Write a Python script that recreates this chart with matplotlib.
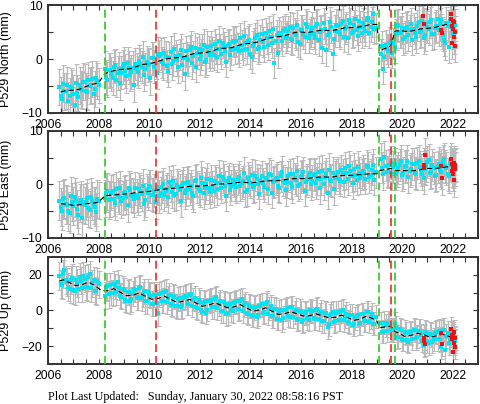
import numpy as np
import matplotlib.pyplot as plt
from matplotlib.ticker import MultipleLocator

nan = np.nan

# samples every 0.1 yr (16 rows x 10); second set offset by 0.05 yr
obs_t = 2006.45 + 0.1 * np.arange(160)
obs_t2 = 2006.50 + 0.1 * np.arange(160)

north_obs = [
    -5.2, -7.4, -6.0, -4.8, -6.9, -5.5, -8.6, -6.3, -4.9, -5.8,
    -4.3, -6.2, -5.0, -3.7, -5.6, -4.1, nan, nan, -1.9, -3.8,
    -2.0, -3.5, -1.2, -2.6, -4.4, -1.5, -2.2, -0.8, -2.9, -1.7,
    -0.9, -2.4, -1.0, 0.3, -1.8, -1.2, -3.6, 0.2, -0.7, 1.0,
    0.9, -1.0, 0.4, -2.2, 1.3, -0.3, 0.6, -1.5, 1.7, 0.1,
    1.4, -0.2, 2.3, 0.5, -1.4, 1.8, 0.8, 2.6, -0.1, 1.3,
    2.4, 0.7, 1.9, 3.4, 0.9, 2.2, -0.6, 2.8, 1.6, 3.1,
    3.3, 1.4, 2.6, 4.2, 1.9, 3.6, 0.3, 3.0, 4.5, 2.2,
    4.6, 2.3, 3.8, 5.2, 2.9, -0.8, 4.4, 4.9, 3.4, 5.6,
    4.2, 5.9, 3.6, 4.8, 6.3, 2.8, 5.4, 4.0, 6.0, 4.6,
    5.8, 3.9, 6.4, 5.0, 2.1, 5.6, 4.4, 6.8, 0.9, 5.2,
    6.2, 4.6, 7.1, 5.5, 3.8, 6.7, 5.1, 7.4, 4.3, 6.0,
    6.6, 5.2, 7.6, 6.0, 8.3, 5.7, nan, 0.9, -1.9, 2.6,
    1.5, 3.4, 2.9, 4.6, 6.3, 5.0, 3.7, 5.8, 4.4, 6.5,
    5.6, 4.1, 6.9, 5.2, 3.9, 6.4, 5.5, 7.2, 4.7, 6.1,
    5.4, 7.3, 3.6, 6.6, 2.2, 5.9, 7.0, nan, nan, nan,
]
north_obs2 = [
    -6.8, -4.6, -5.9, -7.7, -5.1, -6.4, -4.4, -7.0, -5.6, -4.2,
    -5.9, -3.9, -4.8, -6.5, -3.6, -4.9, nan, nan, -3.4, -2.1,
    -2.8, -1.4, -3.9, -1.8, -2.5, -0.9, -3.2, -1.6, -2.4, -4.8,
    -1.9, -0.4, -1.5, -2.9, -0.6, -1.0, 0.1, -1.4, -2.6, 0.6,
    -0.6, 1.1, -1.3, 0.2, -0.9, 1.9, -0.2, 0.8, -1.1, -2.8,
    0.3, 1.6, -0.8, 2.0, 1.1, 0.0, 1.7, -0.5, 2.2, 0.7,
    1.2, 2.7, 0.4, 1.8, 3.0, 1.4, 2.5, 0.8, 3.3, 1.9,
    2.1, 3.8, 1.6, 2.9, 3.4, 0.9, 2.4, 3.9, 1.8, 3.5,
    3.1, 4.8, 2.6, 4.1, 5.5, 3.3, 1.2, 4.3, 5.1, 3.9,
    5.1, 3.7, 5.7, 4.4, 3.1, 5.3, 4.6, 6.5, 3.9, 5.0,
    4.7, 6.1, 3.5, 5.3, 6.6, 1.6, 4.8, 5.9, 3.7, 6.3,
    5.0, 6.5, 4.1, 5.9, 7.3, 4.8, 6.3, 5.4, 7.0, 4.9,
    5.9, 7.2, 4.9, 6.8, 5.5, nan, nan, 2.4, 0.4, 1.8,
    3.0, 1.2, 2.2, 6.1, 4.9, 5.7, 4.1, 6.0, 5.3, 3.6,
    4.8, 6.2, 5.0, 7.0, 4.4, 5.9, 6.8, 4.6, 5.8, 7.5,
    6.4, 4.5, 2.9, 6.1, 7.1, 4.8, 6.3, nan, nan, nan,
]

east_obs = [
    -3.0, -4.9, -2.6, -3.8, -5.4, -3.3, -2.4, -4.6, -3.5, -6.2,
    -3.9, -2.5, -4.7, -3.1, -4.2, -2.7, nan, nan, -2.6, -1.3,
    -2.8, -1.2, -3.4, -1.9, -0.6, -2.5, -1.4, -3.8, -1.0, -2.2,
    -0.7, -2.6, -1.3, -0.2, -2.9, -1.6, -0.4, -2.0, -3.3, -0.8,
    -1.6, 0.1, -1.2, -2.4, -0.3, 0.6, -1.8, -0.5, -3.0, 0.2,
    -1.1, 0.5, -0.3, -2.2, 0.9, -0.8, 1.3, -1.6, 0.1, -0.6,
    0.8, -1.3, 0.3, 1.6, -0.6, 0.9, -2.1, 1.2, -0.2, 0.5,
    -0.5, 1.4, 0.2, 2.2, -1.1, 0.7, 1.8, -0.3, 1.0, -1.7,
    1.5, -0.4, 0.9, 2.0, -1.5, 0.6, 1.3, -0.6, 2.4, 0.3,
    0.4, 1.9, -0.5, 1.2, 2.5, 0.1, 1.6, -1.2, 1.0, 2.1,
    0.6, 2.0, 1.1, -0.7, 2.6, 1.4, -1.6, 0.8, 2.2, 1.3,
    2.3, 0.7, 1.9, 3.1, 1.0, 2.6, 0.2, 1.7, 3.3, 1.2,
    2.6, 1.1, 3.2, 1.8, 3.7, 2.3, nan, 4.8, 1.9, 3.5,
    2.4, 4.1, 3.3, 1.9, 3.0, 4.3, 2.2, 3.5, 1.4, 2.9,
    3.8, 2.0, 4.4, 2.7, 1.3, 3.5, 4.6, 2.4, 3.1, 1.8,
    3.9, 2.3, 4.7, 3.0, 1.5, 3.6, 2.8, nan, nan, nan,
]
east_obs2 = [
    -4.2, -2.8, -3.7, -5.0, -2.2, -4.0, -3.1, -5.7, -2.9, -3.6,
    -3.2, -4.4, -2.3, -3.9, -5.1, -3.0, nan, nan, -1.6, -2.9,
    -1.5, -2.7, -0.9, -2.3, -3.1, -1.6, -2.4, -0.7, -1.9, -2.8,
    -2.0, -0.9, -1.8, -3.6, -1.1, -0.3, -1.9, -1.2, -0.5, -2.2,
    -0.4, -1.9, -0.8, 0.4, -1.4, -2.0, -0.1, -1.1, -0.3, -1.5,
    0.2, -0.9, -1.5, 0.6, -0.4, -1.2, 0.3, -0.7, 1.0, -1.4,
    -0.4, 0.7, -0.9, 0.2, 1.4, -0.3, 0.6, -1.0, 0.9, -0.1,
    1.0, -0.2, 0.6, -1.4, 1.3, 0.3, -0.5, 1.6, 0.1, 0.8,
    0.2, 1.2, -0.8, 1.7, 0.4, 1.0, -0.3, 1.5, 0.7, -1.1,
    1.5, 0.2, 2.0, 0.8, -0.2, 1.4, 2.3, 0.5, 1.8, 0.0,
    1.8, 0.3, 2.4, 1.0, 0.1, 1.9, 2.8, 0.6, -0.9, 1.7,
    1.1, 2.7, 0.5, 2.1, 3.4, 1.5, 2.9, 0.9, 2.2, 1.8,
    2.1, 3.5, 1.4, 2.8, 0.9, nan, nan, 3.1, 5.2, 2.4,
    3.6, 2.0, 3.9, 2.5, 3.7, 1.8, 3.2, 4.4, 2.6, 3.8,
    2.2, 4.0, 3.3, 1.9, 2.9, 4.2, 2.1, 3.6, 1.6, 3.3,
    2.7, 4.2, 3.4, 1.9, 4.0, 2.5, 3.7, nan, nan, nan,
]

up_obs = [
    19.5, 14.2, 22.8, 16.0, 12.1, 18.3, 10.9, 15.4, 19.0, 12.6,
    17.9, 13.1, 20.4, 15.2, 11.0, 16.5, nan, nan, 8.2, 13.6,
    14.1, 9.6, 13.5, 15.8, 8.4, 12.0, 6.1, 10.2, 5.3, 9.4,
    11.6, 7.2, 12.9, 9.0, 5.1, 10.4, 8.3, 3.8, 7.9, -1.5,
    9.9, 5.6, 10.7, 7.2, 3.8, 8.0, 2.6, 6.4, 1.9, 7.1,
    8.3, 3.9, 9.0, 6.1, 1.7, 5.9, 0.4, 4.3, -1.2, 5.2,
    6.0, 1.9, 7.3, 3.5, -0.2, 4.6, -2.0, 3.3, 0.1, 4.4,
    5.1, 0.9, 6.2, 2.6, -1.3, 3.0, -2.9, 1.4, -3.5, 2.7,
    3.4, -0.8, 4.5, 1.1, -3.2, 0.9, -4.7, -0.3, -5.6, 0.5,
    1.3, -3.4, 2.0, -0.9, -5.2, -0.1, -6.3, -1.6, -4.4, 0.2,
    -0.4, -4.6, 0.8, -2.2, -6.1, -1.3, -9.4, -3.0, -1.0, -5.7,
    -1.1, -5.2, 0.0, -3.5, -6.4, -2.8, -8.0, -4.3, -2.5, -7.1,
    -2.2, -5.8, -0.9, -4.0, -7.3, -3.6, nan, -7.0, -11.8, -8.3,
    -6.9, -10.5, -11.2, -9.8, -14.6, -11.0, -16.3, -12.7, -17.4, -13.1,
    -10.8, -15.3, -11.6, -14.0, -19.5, -12.5, -18.1, -13.6, -16.2, -11.9,
    -11.4, -20.6, -10.9, -14.1, -18.4, -12.8, -15.9, nan, nan, nan,
]
up_obs2 = [
    14.8, 20.6, 17.3, 13.0, 16.9, 11.5, 17.2, 12.3, 16.8, 19.2,
    13.4, 18.7, 12.6, 16.9, 10.8, 14.7, nan, nan, 13.2, 9.0,
    9.9, 15.0, 10.1, 12.8, 7.7, 11.3, 5.6, 10.6, 6.2, 11.9,
    7.5, 12.4, 6.8, 10.7, 5.3, 9.0, 3.9, 8.8, 4.4, 9.2,
    5.2, 10.3, 4.9, 8.8, 3.1, 7.4, 2.3, 6.9, 2.8, 7.7,
    4.0, 8.6, 2.7, 7.0, 1.4, 4.8, -0.6, 5.1, 0.5, 5.6,
    1.8, 6.5, 1.2, 5.1, -0.4, 3.9, -1.3, 3.7, -0.5, 4.6,
    0.6, 5.4, -0.3, 4.0, -1.8, 2.2, -2.8, 2.1, -2.4, 2.6,
    -1.2, 3.6, -1.9, 2.4, -3.3, 0.6, -4.6, 0.3, -4.1, 0.4,
    -3.1, 1.7, -3.5, 0.4, -4.6, -0.8, -5.5, -1.0, -5.3, -0.6,
    -4.4, 0.4, -4.8, -0.7, -5.9, -1.5, -7.8, -1.8, -6.2, -1.2,
    -5.3, -0.5, -5.6, -1.7, -6.9, -2.8, -7.8, -3.1, -7.4, -2.0,
    -5.6, -1.0, -6.2, -2.1, -7.4, nan, nan, -12.0, -6.9, -11.4,
    -6.8, -10.9, -7.3, -14.9, -10.6, -16.0, -12.1, -16.8, -12.3, -15.9,
    -11.2, -14.6, -11.3, -16.9, -12.2, -17.3, -13.0, -17.5, -12.4, -16.1,
    -16.2, -11.1, -22.4, -12.5, -16.8, -13.1, -17.2, nan, nan, nan,
]

# formal errors, one value per 10-sample row
north_sig = [3.4, 3.3, 3.1, 3.0, 2.9, 2.9, 2.8, 2.8, 2.8, 2.8, 2.9, 2.8, 2.8, 2.9, 2.9, 3.0]
east_sig = [3.6, 3.5, 3.2, 3.1, 3.0, 3.0, 2.9, 2.9, 2.9, 2.9, 3.0, 2.9, 2.9, 3.0, 3.0, 3.1]
up_sig = [7.8, 7.6, 7.1, 7.0, 6.8, 6.6, 6.6, 6.5, 6.4, 6.4, 6.5, 6.4, 6.4, 6.5, 6.6, 6.8]

# model fit (black dashed)
ne_model_t = np.concatenate([np.arange(2006.5, 2019.01, 0.25),
                             [2019.12, 2019.35, 2019.55, 2019.72],
                             np.arange(2020.0, 2022.01, 0.25)])
north_model = [-6.1, -5.8,
               -5.8, -5.6, -5.1, -4.7,
               -4.4, -2.7, -2.3, -2.0,
               -1.9, -1.8, -1.4, -1.0,
               -0.9, -0.6, -0.2, 0.1,
               0.2, 0.3, 0.6, 1.0,
               1.1, 1.2, 1.5, 1.9,
               2.0, 2.1, 2.5, 2.8,
               2.9, 3.1, 3.5, 3.9,
               4.1, 4.2, 4.5, 4.9,
               5.0, 4.9, 5.1, 5.3,
               5.3, 5.3, 5.5, 5.8,
               5.8, 5.9, 6.1, 6.4,
               6.4,
               1.6, 2.0, 2.4, 5.2,
               5.2, 5.1, 5.3, 5.6,
               5.7, 5.8, 6.1, 6.4,
               6.4]
east_model = [-3.6, -3.7,
              -3.9, -3.8, -3.6, -3.5,
              -3.3, -2.1, -2.0, -1.9,
              -1.8, -1.7, -1.5, -1.4,
              -1.3, -1.1, -0.9, -0.8,
              -0.7, -0.6, -0.4, -0.3,
              -0.3, -0.2, -0.1, 0.1,
              0.1, 0.2, 0.4, 0.4,
              0.3, 0.4, 0.6, 0.7,
              0.7, 0.8, 1.0, 1.1,
              1.1, 1.1, 1.3, 1.4,
              1.4, 1.4, 1.6, 1.7,
              1.7, 1.8, 1.9, 2.0,
              2.0,
              2.6, 2.8, 3.0, 2.6,
              2.6, 2.6, 2.6, 2.8,
              3.0, 3.0, 3.1, 3.3,
              3.3]
up_model_t = np.concatenate([[2006.45], np.arange(2006.6, 2019.0, 0.25),
                             [2019.0, 2019.12, 2019.35, 2019.55, 2019.72],
                             np.arange(2019.85, 2022.11, 0.25)])
up_model = [16.5,
            17.2, 15.6,
            13.9, 14.5, 15.9, 14.0,
            11.3, 11.0, 12.2, 10.3,
            8.3, 8.6, 9.8, 8.0,
            6.3, 6.7, 8.0, 6.3,
            4.5, 5.2, 6.2, 4.2,
            2.4, 3.0, 4.3, 2.9,
            1.5, 2.0, 3.3, 1.4,
            -0.4, 0.2, 1.5, -0.3,
            -2.2, -1.8, -0.7, -1.9,
            -3.1, -2.9, -1.9, -3.0,
            -4.1, -3.8, -2.6, -4.0,
            -5.6, -4.7, -3.1, -4.6,
            -5.9, -9.6, -9.2, -8.7, -12.0,
            -12.5,
            -14.5, -14.0, -12.8, -13.5,
            -15.0, -14.2, -13.3, -14.5,
            -16.0]

# rapid solutions (red)
north_red_t = [2020.83, 2020.87, 2021.55, 2021.57, 2021.92, 2021.94, 2021.96, 2021.98,
               2022.0, 2022.02, 2022.04, 2022.06, 2022.08, 2022.1]
north_red = [7.9, 6.4, 5.4, 4.8, 8.3, 7.5, 6.2, 3.0, 7.0, 5.5, 4.0, 6.8, 2.5, 5.0]
east_red_t = [2020.85, 2020.87, 2020.9, 2021.55, 2021.57, 2021.94, 2021.96, 2021.98,
              2022.0, 2022.02, 2022.04, 2022.06, 2022.08, 2022.1]
east_red = [3.7, 3.1, 5.5, 3.5, 1.2, 4.7, 3.8, 2.6, 3.3, 1.9, 4.1, 0.8, 2.9, 3.6]
up_red_t = [2020.85, 2020.87, 2020.89, 2021.55, 2021.57, 2021.94, 2021.96, 2021.98,
            2022.0, 2022.02, 2022.04, 2022.06, 2022.08, 2022.1]
up_red = [-15.2, -17.0, -18.9, -12.4, -18.9, -10.6, -13.5, -16.0, -23.0, -14.2,
          -18.0, -12.0, -20.5, -15.5]

green_events = [2008.25, 2019.1, 2019.7]
red_events = [2010.25, 2019.55]

panels = [
    ("P529 North (mm)", north_obs, north_obs2, north_sig, ne_model_t, north_model,
     north_red_t, north_red, (-10, 10), 10, 5),
    ("P529 East (mm)", east_obs, east_obs2, east_sig, ne_model_t, east_model,
     east_red_t, east_red, (-10, 10), 10, 5),
    ("P529 Up (mm)", up_obs, up_obs2, up_sig, up_model_t, up_model,
     up_red_t, up_red, (-30, 30), 20, 10),
]

plt.rcParams["font.family"] = ["Liberation Sans", "DejaVu Sans"]

fig = plt.figure(figsize=(4.81, 4.04), dpi=100)
rects = [[0.0998, 0.7203, 0.894, 0.2673],
         [0.0998, 0.4109, 0.894, 0.2649],
         [0.0998, 0.0990, 0.894, 0.2649]]

for rect, (label, obs, obs2, sig, mt, mv, rt, rv, ylim, major, minor) in zip(rects, panels):
    ax = fig.add_axes(rect)
    t = np.concatenate([obs_t, obs_t2])
    y = np.concatenate([np.array(obs, dtype=float), np.array(obs2, dtype=float)])
    err = np.concatenate([np.repeat(sig, 10), np.repeat(sig, 10)])
    ax.errorbar(t, y, yerr=err, fmt="none", ecolor="#b9b9b9",
                elinewidth=0.9, capsize=1.8, capthick=0.7, zorder=1)
    ax.errorbar(rt, rv, yerr=np.full(len(rt), sig[-1]), fmt="none", ecolor="#b9b9b9",
                elinewidth=0.9, capsize=1.8, capthick=0.7, zorder=1)
    ax.plot(t, y, "s", color="#00e3f3", ms=2.4, mew=0, zorder=2)
    ax.plot(mt, mv, color="black", lw=0.8, dashes=(4.5, 2.8), zorder=3)
    for x in green_events:
        ax.axvline(x, color="#3ccd2e", lw=1.3, dashes=(4.4, 2.2), zorder=4)
    for x in red_events:
        ax.axvline(x, color="#f03a3a", lw=1.3, dashes=(4.4, 2.2), zorder=4)
    ax.plot(rt, rv, "s", color="#ee1111", ms=2.3, mew=0, zorder=5)

    ax.set_xlim(2006, 2023)
    ax.set_ylim(*ylim)
    ax.xaxis.set_minor_locator(MultipleLocator(0.5))
    ax.yaxis.set_major_locator(MultipleLocator(major))
    ax.yaxis.set_minor_locator(MultipleLocator(minor))
    ax.set_xticks([2006, 2008, 2010, 2012, 2014, 2016, 2018, 2020, 2022])
    ax.tick_params(which="both", direction="in", top=True, right=True,
                   length=3.5, width=0.8, color="#333333", labelsize=8.7, pad=4)
    for s in ax.spines.values():
        s.set_linewidth(1.4)
        s.set_color("#333333")
    ax.set_ylabel(label, fontsize=9)
    ax.yaxis.set_label_coords(-0.083, 0.5)

fig.text(0.0998, 0.017, "Plot Last Updated:   Sunday, January 30, 2022 08:58:16 PST",
         family="Liberation Serif", fontsize=8.7, va="center", ha="left")

fig.savefig("out.png", dpi=100)
